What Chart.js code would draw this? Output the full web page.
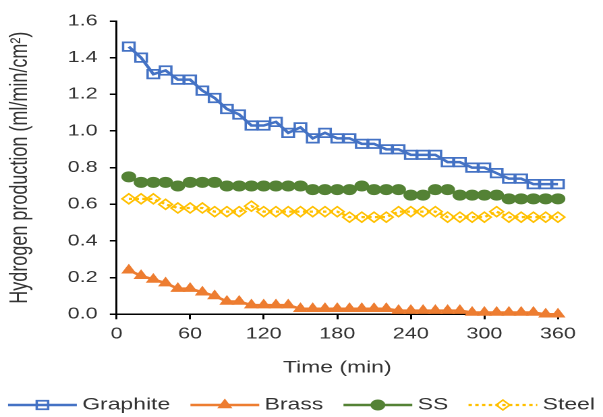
<!DOCTYPE html>
<html>
<head>
<meta charset="utf-8">
<script src="https://cdn.jsdelivr.net/npm/chart.js@4/dist/chart.umd.min.js"></script>
<style>
  html, body { margin: 0; padding: 0; background: #fff; overflow: hidden; }
  /* the figure is laid out narrow and stretched sideways, like the pasted original */
  #wrap { width: 447px; height: 417px; transform: scaleX(1.349); transform-origin: 0 0; }
</style>
</head>
<body>
<div id="wrap"><canvas id="h2Chart"></canvas></div>
<script>
const times    = [10, 20, 30, 40, 50, 60, 70, 80, 90, 100, 110, 120, 130, 140, 150, 160, 170, 180,
                  190, 200, 210, 220, 230, 240, 250, 260, 270, 280, 290, 300, 310, 320, 330, 340, 350, 360]
const graphite = [1.46, 1.40, 1.31, 1.33, 1.28, 1.28, 1.22, 1.18, 1.12, 1.09, 1.03, 1.03, 1.05, 0.99, 1.02, 0.96, 0.99, 0.96,
                  0.96, 0.93, 0.93, 0.90, 0.90, 0.87, 0.87, 0.87, 0.83, 0.83, 0.80, 0.80, 0.77, 0.74, 0.74, 0.71, 0.71, 0.71]
const brass    = [0.24, 0.21, 0.19, 0.17, 0.14, 0.14, 0.12, 0.10, 0.07, 0.07, 0.05, 0.05, 0.05, 0.05, 0.03, 0.03, 0.03, 0.03,
                  0.03, 0.03, 0.03, 0.03, 0.02, 0.02, 0.02, 0.02, 0.02, 0.02, 0.01, 0.01, 0.01, 0.01, 0.01, 0.01, 0.00, 0.00]
const ss       = [0.75, 0.72, 0.72, 0.72, 0.70, 0.72, 0.72, 0.72, 0.70, 0.70, 0.70, 0.70, 0.70, 0.70, 0.70, 0.68, 0.68, 0.68,
                  0.68, 0.70, 0.68, 0.68, 0.68, 0.65, 0.65, 0.68, 0.68, 0.65, 0.65, 0.65, 0.65, 0.63, 0.63, 0.63, 0.63, 0.63]
const steel    = [0.63, 0.63, 0.63, 0.60, 0.58, 0.58, 0.58, 0.56, 0.56, 0.56, 0.59, 0.56, 0.56, 0.56, 0.56, 0.56, 0.56, 0.56,
                  0.53, 0.53, 0.53, 0.53, 0.56, 0.56, 0.56, 0.56, 0.53, 0.53, 0.53, 0.53, 0.56, 0.53, 0.53, 0.53, 0.53, 0.53]

const FONT = '"Liberation Sans", Arial, sans-serif'
const INK = '#333'

function series(label, values, color, style) {
  return {
    label,
    data: values.map((v, i) => ({ x: times[i], y: v })),
    borderColor: color, borderWidth: 2.5, clip: false,
    pointBorderColor: color, pointBorderWidth: 1.5,
    pointBackgroundColor: color, pointHoverRadius: 5,
    ...style,
  }
}

// Excel-style legend: short line with the marker in the middle, then the name
const lineLegend = {
  id: 'lineLegend',
  afterDraw(chart) {
    const ctx = chart.ctx, y = 405, LINE = 51, GAP = 4, SPACE = 15
    ctx.save()
    ctx.font = `17px ${FONT}`
    const items = chart.data.datasets.map(ds => ({ ds, w: ctx.measureText(ds.label).width }))
    const total = items.reduce((s, it) => s + LINE + GAP + it.w, 0) + SPACE * (items.length - 1)
    let x = (chart.width - total) / 2
    items.forEach(({ ds, w }) => {
      ctx.strokeStyle = ds.borderColor
      ctx.lineWidth = ds.borderWidth
      ctx.setLineDash(ds.borderDash || [])
      ctx.beginPath(); ctx.moveTo(x, y); ctx.lineTo(x + LINE, y); ctx.stroke()
      ctx.setLineDash([])
      ctx.fillStyle = ds.pointBackgroundColor
      ctx.strokeStyle = ds.pointBorderColor
      ctx.lineWidth = ds.pointBorderWidth
      Chart.helpers.drawPoint(ctx, { pointStyle: ds.pointStyle, radius: ds.pointRadius, borderWidth: ds.pointBorderWidth, rotation: 0 }, x + LINE / 2, y)
      ctx.fillStyle = INK
      ctx.textAlign = 'left'; ctx.textBaseline = 'middle'
      ctx.fillText(ds.label, x + LINE + GAP, y)
      x += LINE + GAP + w + SPACE
    })
    ctx.restore()
  },
}

const axisLook = {
  border: { display: true, color: '#000', width: 1.5 },
  grid: { display: true, drawOnChartArea: false, drawTicks: true, tickLength: 5, color: '#000', lineWidth: 1.5 },
}

new Chart(document.getElementById('h2Chart'), {
  type: 'line',
  data: {
    datasets: [
      series('Graphite', graphite, '#4472C4', { pointStyle: 'rect', pointRadius: 6, pointBackgroundColor: 'rgba(255,255,255,0)', pointBorderWidth: 1.75 }),
      series('Brass', brass, '#ED7D31', { pointStyle: 'triangle', pointRadius: 5.5, pointBorderWidth: 1 }),
      series('SS', ss, '#548235', { pointStyle: 'circle', pointRadius: 5, pointBorderWidth: 1 }),
      series('Steel', steel, '#FFC000', { pointStyle: 'rectRot', pointRadius: 5, pointBackgroundColor: 'rgba(255,255,255,0)',
        borderWidth: 2.25, borderDash: [2.5, 2.5] }),
    ],
  },
  options: {
    responsive: true, maintainAspectRatio: false, animation: false, devicePixelRatio: 2,
    layout: { padding: { top: 21, right: 33.4, bottom: 30.5, left: 0 } },
    plugins: { legend: { display: false }, tooltip: { enabled: false } },
    scales: {
      x: {
        type: 'linear', min: 0, max: 360, ...axisLook,
        ticks: { stepSize: 60, padding: 5, color: INK, font: { family: FONT, size: 16 } },
        title: { display: true, text: 'Time (min)', color: INK, font: { family: FONT, size: 17 }, padding: { top: 9.3, bottom: 8.3 } },
      },
      y: {
        min: 0, max: 1.6, ...axisLook,
        ticks: { stepSize: 0.2, padding: 9, color: INK, font: { family: FONT, size: 16 }, callback: v => v.toFixed(1) },
        title: { display: true, text: 'Hydrogen production (ml/min/cm²)', color: INK, font: { family: FONT, size: 18 }, padding: { top: 4, bottom: 0 } },
        afterFit: s => { s.width = 86.4 },
      },
    },
  },
  plugins: [lineLegend],
})
</script>
</body>
</html>
